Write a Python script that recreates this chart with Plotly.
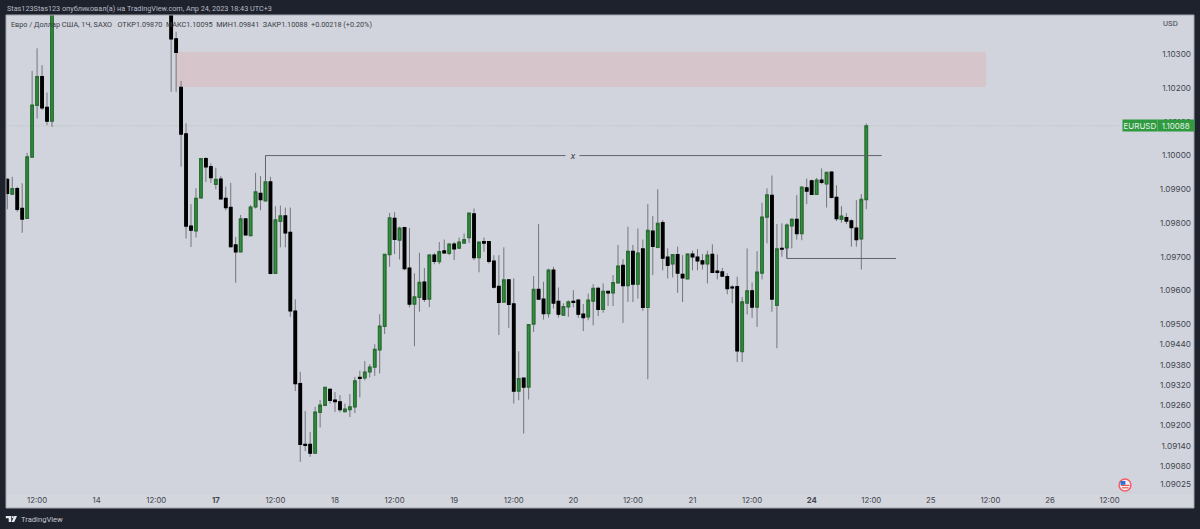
import plotly.graph_objects as go

# Candles: position on the ordinal hourly bar scale; prices in points above 1.09000
bar_index = list(range(0, 10)) + list(range(33, 174))
opens_pts = [929,886,902,843,814,996,1149,1234,1143,1102,
 1491,1346,1202,1064,791,777,875,991,967,915,930,873,846,735,715,812,763,848,888,866,922,651,805,821,772,539,324,144,144,118,239,260,307,275,270,241,247,255,342,341,359,373,424,494,707,814,750,786,666,560,580,625,575,705,686,717,710,737,726,741,757,827,698,745,745,687,612,566,631,560,302,340,314,501,603,574,532,660,568,527,552,568,571,530,522,569,606,544,597,593,623,674,615,716,619,723,550,776,728,801,699,679,706,648,635,708,699,688,679,707,657,655,641,610,611,419,563,599,551,652,818,882,556,725,727,792,811,769,904,925,885,927,916,951,876,811,816,806,785,753,870]
highs_pts = [933,937,908,918,1008,1251,1318,1268,1187,1500,
 1500,1367,1221,1096,856,903,993,995,977,964,939,908,919,759,824,813,853,949,939,927,937,850,852,846,846,574,359,243,181,255,275,314,310,299,290,265,293,344,362,391,382,441,530,707,830,832,789,789,785,651,712,667,708,711,744,751,741,744,757,769,829,843,743,757,746,705,705,728,634,636,420,340,499,643,797,626,665,670,609,562,571,601,574,560,591,619,611,621,597,646,735,693,789,735,784,751,856,821,900,809,725,706,730,705,710,718,723,708,718,737,707,667,651,616,641,581,725,624,717,860,903,941,797,799,799,814,883,907,932,929,934,962,951,952,912,850,829,811,868,886,1095]
lows_pts = [841,883,833,771,813,995,1110,1135,1090,1085,
 1189,1189,967,754,729,757,874,922,919,900,871,838,728,623,715,764,761,843,838,866,648,649,728,728,522,302,92,124,107,118,194,257,265,240,239,239,225,237,283,334,342,347,354,471,670,708,692,660,550,435,537,566,551,678,678,708,705,690,724,740,741,690,654,715,680,606,468,566,489,265,275,176,277,477,574,514,520,547,520,527,522,550,519,480,512,497,524,534,554,554,623,504,566,566,576,540,337,646,725,660,636,639,593,566,635,660,660,662,621,654,633,641,589,562,388,388,529,519,492,633,740,537,429,700,695,725,751,749,856,883,885,915,846,873,806,801,797,730,730,662,841]
closes_pts = [888,902,841,812,996,1149,1234,1142,1102,1491,
 1346,1306,1064,791,779,873,991,967,935,929,872,846,730,715,812,765,847,892,870,922,651,809,821,771,540,324,144,141,118,239,260,313,275,271,247,248,255,332,340,358,373,425,494,707,815,752,785,665,560,581,624,574,705,687,715,712,737,724,743,751,829,698,743,741,687,610,565,631,559,302,339,314,499,603,575,532,660,563,530,552,566,565,530,520,571,606,544,597,593,623,672,615,716,619,711,550,778,731,799,696,675,706,652,638,708,700,688,679,705,654,654,643,606,608,421,566,599,551,654,817,883,575,723,723,794,811,769,906,895,885,927,921,950,876,813,820,806,787,751,870,1088]

price_ticks = [1.103,1.102,1.101,1.1,1.099,1.098,1.097,1.096,1.095,1.0944,1.0938,1.0932,1.0926,1.092,1.0914,1.0908,1.09025]
price_labels = ["1.10300","1.10200","1.10100","1.10000","1.09900","1.09800","1.09700","1.09600","1.09500","1.09440","1.09380","1.09320","1.09260","1.09200","1.09140","1.09080","1.09025"]
time_ticks = [6,18,30,42,54,66,78,90,102,114,126,138,150,162,174,186,198,210,222]
time_labels = ["12:00","14","12:00","<b>17</b>","12:00","18","12:00","19","12:00","20","12:00","21","12:00","<b>24</b>","12:00","25","12:00","26","12:00"]

last_price = 1.10088
level_x = 1.10000
level_low = 1.09695
zone_top, zone_bottom = 1.10308, 1.10203

to_price = lambda pts: [round(1.09 + p / 1e5, 5) for p in pts]
opens, highs, lows, closes = map(to_price, (opens_pts, highs_pts, lows_pts, closes_pts))
body_top = [max(o, c) for o, c in zip(opens, closes)]
body_bot = [min(o, c) for o, c in zip(opens, closes)]

BG, DARK, GREEN = "#d1d4dc", "#1e222d", "#2f9a3f"
FONT = "Inter"
HEAD = "Roboto"
W, H = 1200, 529
L, R, T, B = 6, 6, 15, 21
xp = lambda px: (px - L) / (W - L - R)
yp = lambda py: 1 - (py - T) / (H - T - B)

fig = go.Figure()
# wicks
fig.add_trace(go.Candlestick(
    x=bar_index, open=opens, high=highs, low=lows, close=closes,
    whiskerwidth=0,
    increasing=dict(line=dict(color="#74767c", width=1), fillcolor="rgba(0,0,0,0)"),
    decreasing=dict(line=dict(color="#74767c", width=1), fillcolor="rgba(0,0,0,0)"),
    hoverinfo="skip", showlegend=False))
# bodies
fig.add_trace(go.Candlestick(
    x=bar_index, open=opens, high=body_top, low=body_bot, close=closes,
    whiskerwidth=0,
    increasing=dict(line=dict(color="#2a6e33", width=1.4), fillcolor=GREEN),
    decreasing=dict(line=dict(color="#000000", width=1.4), fillcolor="#000000"),
    hoverinfo="skip", showlegend=False))

shapes = [
    dict(type="rect", xref="paper", yref="paper", x0=0, x1=1, y0=0, y1=yp(492.7),
         fillcolor="#d3d6dd", line_width=0, layer="below"),
    dict(type="line", xref="paper", yref="paper", x0=0, x1=1, y0=yp(492.7), y1=yp(492.7),
         line=dict(color="#cdd0d8", width=1), layer="below"),
    dict(type="rect", x0=34, x1=197.1, y0=zone_bottom, y1=zone_top, xref="x", yref="y",
         fillcolor="#d7c5cc", line_width=0, layer="below"),
    dict(type="line", xref="paper", yref="y", x0=0, x1=xp(1122), y0=last_price, y1=last_price,
         line=dict(color="#a9bfb0", width=0.8, dash="1px,1.5px"), layer="below"),
    dict(type="line", xref="x", yref="y", x0=52, x1=176.1, y0=level_x, y1=level_x,
         line=dict(color="#5f6269", width=1)),
    dict(type="line", xref="x", yref="y", x0=52, x1=52, y0=level_x, y1=closes[bar_index.index(52)],
         line=dict(color="#5f6269", width=1)),
    dict(type="line", xref="x", yref="y", x0=157, x1=179, y0=level_low, y1=level_low,
         line=dict(color="#5f6269", width=1)),
    dict(type="line", xref="x", yref="y", x0=157, x1=157, y0=level_low, y1=opens[bar_index.index(157)],
         line=dict(color="#5f6269", width=1)),
    dict(type="rect", xref="paper", yref="paper", x0=0, x1=1, y0=0, y1=1,
         line=dict(color="#a3a6ae", width=1), fillcolor="rgba(0,0,0,0)"),
]

# US flag event marker
def circ(cx, cy, r, col):
    return dict(type="circle", xref="paper", yref="paper", x0=xp(cx - r), x1=xp(cx + r),
                y0=yp(cy + r), y1=yp(cy - r), fillcolor=col, line_width=0)
def box(x0, y0, x1, y1, col):
    return dict(type="rect", xref="paper", yref="paper", x0=xp(x0), x1=xp(x1),
                y0=yp(y1), y1=yp(y0), fillcolor=col, line_width=0)
shapes += [circ(1125, 485, 6.7, "#f45b66"), circ(1125, 485, 5.2, "#f1f1f4"),
           box(1121, 484.8, 1129.5, 486, "#ef5350"), box(1122, 487.2, 1128.5, 488.4, "#ef5350"),
           box(1120.5, 481, 1125.4, 484.8, "#2f6fd0")]
# TradingView logo
logo = [(5.8, 516), (11.2, 516), (11.2, 522), (8.7, 522), (8.7, 518.2), (5.8, 518.2)]
path = "M" + " L".join(f"{xp(a)},{yp(b)}" for a, b in logo) + " Z"
slash = [(14.2, 516), (17, 516), (14.2, 522), (11.6, 522)]
path2 = "M" + " L".join(f"{xp(a)},{yp(b)}" for a, b in slash) + " Z"
shapes += [dict(type="path", xref="paper", yref="paper", path=path, fillcolor="#e8e9ee", line_width=0),
           dict(type="path", xref="paper", yref="paper", path=path2, fillcolor="#e8e9ee", line_width=0),
           circ(12.7, 517.1, 1.1, "#e8e9ee")]

def note(px, py, text, size=7.25, color="#3a3d45", xanchor="left", family=HEAD, **kw):
    return dict(xref="paper", yref="paper", x=xp(px), y=yp(py), text=text, showarrow=False,
                xanchor=xanchor, yanchor="middle", xshift=0, yshift=0,
                font=dict(family=family, size=size, color=color), borderpad=0, **kw)

annotations = [
    note(5.5, 8.5, "Stas123Stas123 опубликовал(а) на TradingView.com, Апр 24, 2023 18:43 UTC+3", color="#b9bcc6"),
    note(10, 24.5, "Евро / Доллар США, 1Ч, SAXO  &nbsp;ОТКР1.09870 &nbsp;МАКС1.10095 &nbsp;МИН1.09841 &nbsp;ЗАКР1.10088 &nbsp;+0.00218 (+0.20%)"),
    note(1162, 23, "USD", color="#42454e", size=7.8),
    note(19.5, 519, "TradingView", size=7.6, color="#c4c7d0"),
    dict(x=113.8, y=level_x, xref="x", yref="y", text="<i>x</i>", showarrow=False, bgcolor=BG,
         font=dict(family=FONT, size=9, color="#3a3d45"), width=13, height=9, borderpad=0),
    note(1122, 125.5, "EURUSD", color="#e6f2e7", size=8, family=FONT, width=34, height=11, bgcolor=GREEN, align="center"),
    note(1156.5, 125.5, "1.10088", color="#e6f2e7", size=8, family=FONT, width=35.5, height=11, bgcolor=GREEN, align="center"),
]

fig.update_layout(
    width=W, height=H, margin=dict(l=L, r=R, t=T, b=B),
    paper_bgcolor=DARK, plot_bgcolor=BG, showlegend=False,
    font=dict(family=FONT, size=7.8, color="#42454e"),
    shapes=shapes, annotations=annotations,
    xaxis=dict(range=[-0.26, 239.0], rangeslider=dict(visible=False), showgrid=False, zeroline=False,
               tickmode="array", tickvals=time_ticks, ticktext=time_labels,
               ticklabelposition="inside", ticks="", showline=False,
               tickfont=dict(family=FONT, size=7.8, color="#42454e")),
    yaxis=dict(range=[1.089554, 1.104167], side="right", showgrid=False, zeroline=False,
               tickmode="array", tickvals=price_ticks, ticktext=price_labels,
               ticklabelposition="inside", ticks="", showline=False,
               tickfont=dict(family=FONT, size=8.2, color="#42454e")),
)
fig.write_html("out.html", config=dict(displayModeBar=False),
               post_script="document.body.style.margin='0';document.body.style.background='#1e222d';")
